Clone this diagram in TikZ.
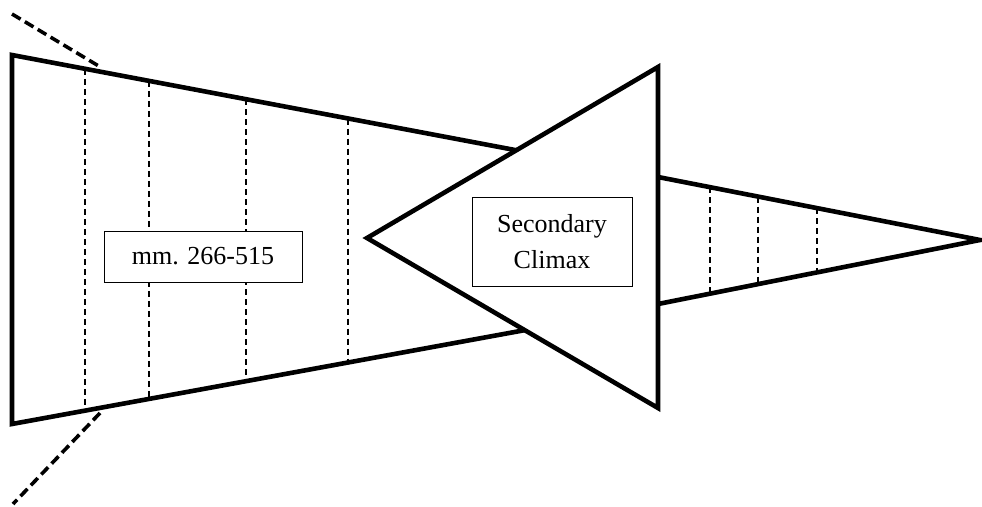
\documentclass[tikz,border=0pt]{standalone}
\usepackage{fontspec}
\setmainfont{Liberation Serif}
\usepackage{tikz}

\begin{document}
\begin{tikzpicture}%
  [x=1pt,y=-1pt,line join=miter]
  \tikzstyle{thick line}=[line width=4.6pt]
  \tikzstyle{bar line}=[line width=1.4pt,dash pattern=on 6pt off 4pt]
  \tikzstyle{cut line}=[line width=3.6pt,dash pattern=on 10pt off 5pt]
  \tikzstyle{box node}=[rectangle,draw,line width=0.9pt,align=center,
    font=\fontsize{26}{36}\selectfont]
  \useasboundingbox (0,0) rectangle (982,506);
  % left part
  \coordinate (lt) at (12,55);
  \coordinate (lb) at (12,424);
  \coordinate (le) at (560,158.5);
  \coordinate (lf) at (560,323.7);
  \draw[thick line] (le) -- (lt) -- (lb) -- (lf);
  \foreach \x/\ya/\yb in {85/68.8/410.5,149/80.9/398.7,246/99.2/380.7,348/118.5/361.8}
    \draw[bar line] (\x,\ya) -- (\x,\yb);
  % right part
  \coordinate (rt) at (658,177);
  \coordinate (rb) at (658,304);
  \coordinate (tip) at (980,240);
  \draw[thick line] (rt) -- (tip) -- (rb);
  \foreach \x/\ya/\yb in {710/187.2/293.7,758/196.6/284.1,817/208.1/272.4}
    \draw[bar line] (\x,\ya) -- (\x,\yb);
  % triangle
  \coordinate (apex) at (367,238);
  \coordinate (tt) at (658,67);
  \coordinate (tb) at (658,408);
  \filldraw[thick line,fill=white] (apex) -- (tt) -- (tb) -- cycle;
  % cuts
  \coordinate (c1) at (12,14);
  \coordinate (c2) at (102,68);
  \coordinate (c3) at (100,413);
  \coordinate (c4) at (13,504);
  \draw[cut line] (c1) -- (c2);
  \draw[cut line] (c3) -- (c4);
  % labels
  \node(range)[box node,fill=white,minimum width=198pt,minimum height=51pt]
    at (203,256.5) {mm. 266-515};
  \node(climax)[box node,minimum width=160pt,minimum height=89pt]
    at (552,241.5) {Secondary\\Climax};
\end{tikzpicture}
\end{document}
